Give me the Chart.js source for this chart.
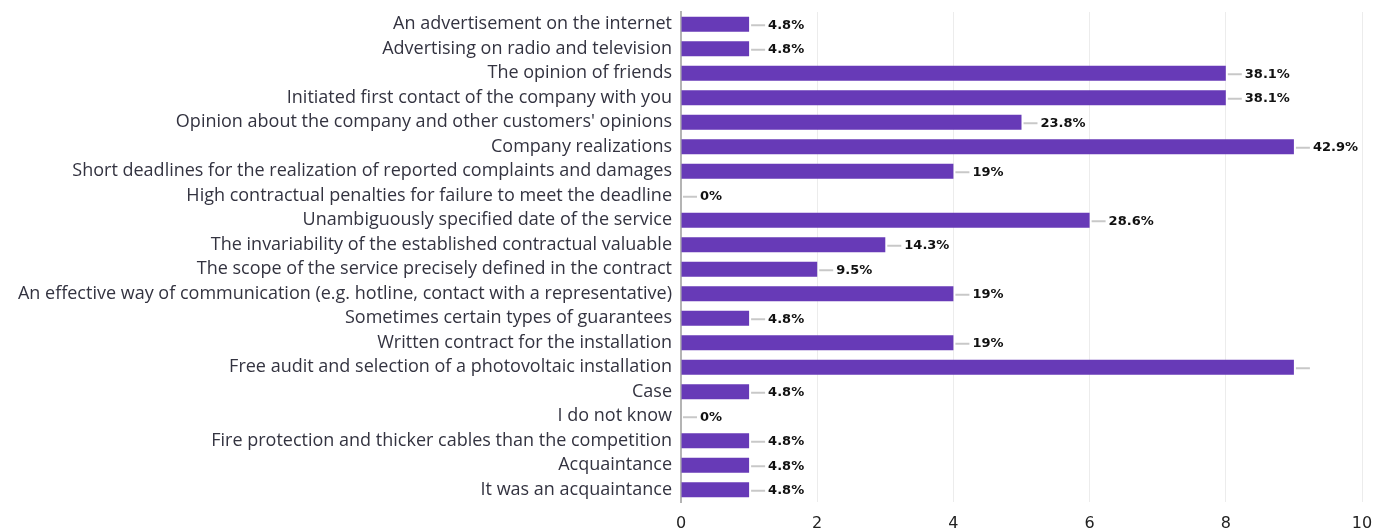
<!DOCTYPE html>
<html>
<head>
<meta charset="utf-8">
<script src="https://cdn.jsdelivr.net/npm/chart.js@4/dist/chart.umd.min.js"></script>
<style>
  html, body { margin: 0; padding: 0; background: #fff; }
  #wrap { width: 1400px; height: 532px; }
</style>
</head>
<body>
<div id="wrap"><canvas id="reasons" width="1400" height="532"></canvas></div>
<script>
/* ---------- data ---------- */
const categories = [
  'An advertisement on the internet',
  'Advertising on radio and television',
  'The opinion of friends',
  'Initiated first contact of the company with you',
  "Opinion about the company and other customers' opinions",
  'Company realizations',
  'Short deadlines for the realization of reported complaints and damages',
  'High contractual penalties for failure to meet the deadline',
  'Unambiguously specified date of the service',
  'The invariability of the established contractual valuable',
  'The scope of the service precisely defined in the contract',
  'An effective way of communication (e.g. hotline, contact with a representative)',
  'Sometimes certain types of guarantees',
  'Written contract for the installation',
  'Free audit and selection of a photovoltaic installation',
  'Case',
  'I do not know',
  'Fire protection and thicker cables than the competition',
  'Acquaintance',
  'It was an acquaintance'
];
const counts = [1, 1, 8, 8, 5, 9, 4, 0, 6, 3, 2, 4, 1, 4, 9, 1, 0, 1, 1, 1];
const pctLabels = ['4.8%', '4.8%', '38.1%', '38.1%', '23.8%', '42.9%', '19%', '0%', '28.6%', '14.3%',
                   '9.5%', '19%', '4.8%', '19%', '', '4.8%', '0%', '4.8%', '4.8%', '4.8%'];
const xTicks = [0, 2, 4, 6, 8, 10];

/* ---------- colours ---------- */
const COLORS = {
  bar    : '#673AB7',
  leader : '#c8c8c8',
  grid   : '#ececec',
  axis   : '#b4b4b4',
  cat    : '#333340',
  text   : '#111111'
};

/* ---------- leader line + percentage label ---------- */
const valueLabels = {
  id: 'valueLabels',
  afterDatasetsDraw(chart) {
    const { ctx } = chart;
    const meta = chart.getDatasetMeta(0);
    ctx.save();
    ctx.font = 'bold 13px "DejaVu Sans"';
    ctx.textBaseline = 'middle';
    ctx.textAlign = 'left';
    meta.data.forEach((bar, i) => {
      const x0 = bar.x + 2, y = bar.y + 1;
      ctx.strokeStyle = COLORS.leader;
      ctx.lineWidth = 2;
      ctx.beginPath();
      ctx.moveTo(x0, y);
      ctx.lineTo(x0 + 14, y);
      ctx.stroke();
      if (pctLabels[i]) {
        ctx.fillStyle = COLORS.text;
        ctx.fillText(pctLabels[i], x0 + 17, y);
      }
    });
    ctx.restore();
  }
};

new Chart(document.getElementById('reasons'), {
  type: 'bar',
  data: {
    labels: categories,
    datasets: [{
      data: counts,
      backgroundColor: COLORS.bar,
      barPercentage: 0.62,
      categoryPercentage: 1
    }]
  },
  options: {
    indexAxis: 'y',
    responsive: false,
    animation: false,
    layout: { padding: { top: 12, right: 38, left: 0, bottom: 0 } },
    plugins: { legend: { display: false }, tooltip: { enabled: false } },
    scales: {
      x: {
        min: 0, max: 10,
        afterBuildTicks: s => { s.ticks = xTicks.map(v => ({ value: v })); },
        afterFit: s => { s.height = 30; s.paddingLeft = 0; s.paddingRight = 0; },
        grid: { color: COLORS.grid, drawTicks: false, lineWidth: 1 },
        border: { display: false },
        ticks: { color: '#222', font: { family: 'DejaVu Sans', size: 16 }, padding: 12 }
      },
      y: {
        afterFit: s => { s.width = 681; s.paddingTop = 0; s.paddingBottom = 0; },
        grid: { display: false, drawTicks: false },
        border: { color: COLORS.axis, width: 2 },
        ticks: { color: COLORS.cat, font: { family: 'Open Sans', size: 18 }, padding: 9, autoSkip: false }
      }
    }
  },
  plugins: [valueLabels]
});
</script>
</body>
</html>
